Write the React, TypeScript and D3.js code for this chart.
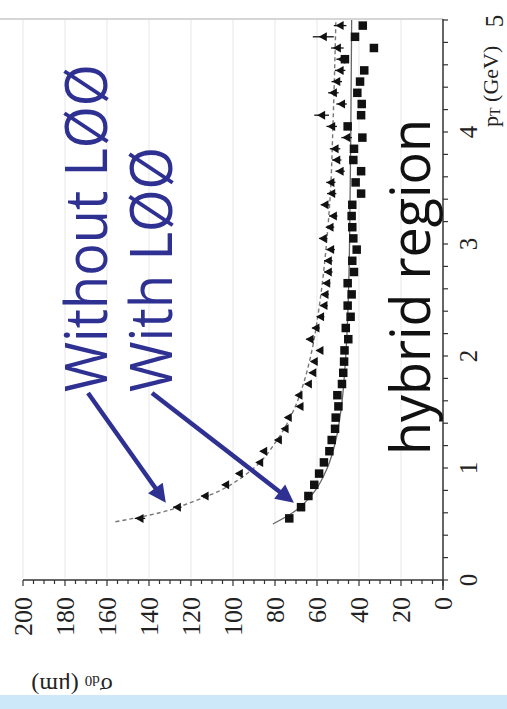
import React from "react";
import * as d3 from "d3";

// pT bin centres (GeV)
const pT = [
  0.55, 0.65, 0.75, 0.85, 0.95, 1.05, 1.15, 1.25, 1.35, 1.45,
  1.55, 1.65, 1.75, 1.85, 1.95, 2.05, 2.15, 2.25, 2.35, 2.45,
  2.55, 2.65, 2.75, 2.85, 2.95, 3.05, 3.15, 3.25, 3.35, 3.45,
  3.55, 3.65, 3.75, 3.85, 3.95, 4.05, 4.15, 4.25, 4.35, 4.45,
  4.55, 4.65, 4.75, 4.85, 4.95,
];

// sigma_d0 (um) with L00 (squares)
const sigmaWith = [
  73.2, 67.6, 64.1, 61.3, 59.0, 56.7, 54.1, 53.0, 51.4, 51.1,
  49.8, 50.3, 48.1, 47.5, 47.1, 46.9, 45.1, 46.3, 44.0, 45.4,
  43.5, 45.4, 42.4, 43.2, 41.1, 42.7, 43.2, 43.5, 43.2, 39.0,
  41.6, 39.0, 42.7, 42.4, 38.4, 45.4, 39.0, 38.7, 40.8, 39.5,
  37.5, 46.7, 32.9, 41.9, 38.2,
];

// sigma_d0 (um) without L00 (triangles)
const sigmaWithout = [
  144.3, 126.5, 113.3, 103.5, 97.0, 87.3, 85.4, 78.4, 75.2, 73.7,
  68.1, 68.6, 64.1, 62.0, 61.3, 58.6, 63.3, 60.5, 58.3, 56.7,
  56.2, 55.4, 54.6, 54.6, 53.5, 57.0, 53.8, 52.2, 56.2, 53.0,
  53.4, 49.0, 50.6, 51.4, 45.9, 53.0, 57.8, 48.3, 52.2, 50.6,
  49.0, 48.3, 50.3, 57.0, 49.0,
];

// error on the triangles (um)
const errWithout = [
  2.5, 2.0, 1.8, 1.6, 1.5, 1.5, 1.5, 1.5, 1.5, 1.5,
  1.5, 1.5, 1.5, 1.5, 1.5, 1.5, 1.8, 1.8, 1.8, 1.8,
  1.8, 1.8, 2.0, 2.0, 2.0, 2.0, 2.0, 2.0, 2.0, 2.2,
  2.2, 2.2, 2.2, 2.5, 2.5, 2.5, 3.5, 2.5, 2.5, 2.5,
  2.5, 2.5, 3.0, 5.0, 3.0,
];

// fitted curves
const fitWithPT = [0.5, 0.6, 0.7, 0.8, 1.0, 1.25, 1.5, 2.0, 2.5, 3.0, 4.0, 5.0];
const fitWithSigma = [81, 71.6, 65.3, 60.8, 55.1, 51.0, 48.7, 46.3, 45.1, 44.5, 43.9, 43.5];
const fitWithoutPT = [0.52, 0.6, 0.7, 0.8, 0.9, 1.0, 1.25, 1.5, 1.75, 2.0, 2.5, 3.0, 3.5, 4.0, 5.0];
const fitWithoutSigma = [156, 135, 119, 106, 97, 90, 79, 71.5, 66.5, 63, 58.5, 55.5, 53.5, 52.5, 51];

const pTTicks = [0, 1, 2, 3, 4, 5];
const sigmaTicks = [0, 20, 40, 60, 80, 100, 120, 140, 160, 180, 200];

const BLUE = "#2e3192";
const SERIF = "'Liberation Serif', 'Times New Roman', serif";
const HAND = "'Open Sans', 'DejaVu Sans', sans-serif";

function arrowHead(x1: number, y1: number, x2: number, y2: number, len: number, half: number) {
  const dx = x2 - x1, dy = y2 - y1;
  const L = Math.hypot(dx, dy);
  const ux = dx / L, uy = dy / L;
  const bx = x2 - ux * len, by = y2 - uy * len;
  const px = -uy, py = ux;
  return `M${x2},${y2}L${bx + px * half},${by + py * half}L${bx - px * half},${by - py * half}Z`;
}

export default function App() {
  const W = 507, H = 709;
  const x = d3.scaleLinear().domain([0, 200]).range([443, 23]);
  const y = d3.scaleLinear().domain([0, 5]).range([580, 20]);

  const line = d3
    .line<[number, number]>()
    .x((d) => x(d[1]))
    .y((d) => y(d[0]))
    .curve(d3.curveMonotoneY);

  const fitWith = line(fitWithPT.map((p, i) => [p, fitWithSigma[i]] as [number, number])) || "";
  const fitWithout = line(fitWithoutPT.map((p, i) => [p, fitWithoutSigma[i]] as [number, number])) || "";

  const minorPT = d3.range(0, 5.001, 0.2);
  const minorSigma = d3.range(0, 200.001, 5);

  const sq = 8.5;
  const tri = (cx: number, cy: number) =>
    `M${cx - 4.5},${cy}L${cx + 3.5},${cy - 4.5}L${cx + 3.5},${cy + 4.5}Z`;

  // arrows
  const a1 = { x1: 88, y1: 393, x2: x(132), y2: y(0.69) };
  const a2 = { x1: 152, y1: 393, x2: x(71), y2: y(0.69) };

  return (
    <svg
      width={W}
      height={H}
      style={{ position: "absolute", left: 0, top: 0, background: "#fff" }}
    >
      <rect x={0} y={0} width={W} height={H} fill="#fff" />
      {/* faint grid */}
      {sigmaTicks.slice(1).map((t) => (
        <line key={"g" + t} x1={x(t)} x2={x(t)} y1={20} y2={578} stroke="#efefef" strokeWidth={1.5} />
      ))}
      {/* top frame */}
      <line x1={0} x2={443} y1={19} y2={19} stroke="#d6d6d6" strokeWidth={2} />

      {/* axes */}
      <line x1={443} x2={443} y1={19} y2={590} stroke="#333" strokeWidth={1.5} />
      <line x1={23} x2={443} y1={580} y2={580} stroke="#333" strokeWidth={1.5} />
      {minorPT.map((t, i) => (
        <line key={"mp" + i} x1={443} x2={448} y1={y(t)} y2={y(t)} stroke="#333" strokeWidth={1.2} />
      ))}
      {minorSigma.map((t, i) => (
        <line
          key={"ms" + i}
          x1={x(t)}
          x2={x(t)}
          y1={580}
          y2={t % 20 === 0 ? 586 : 584}
          stroke="#333"
          strokeWidth={1.2}
        />
      ))}
      {sigmaTicks.map((t) => (
        <text
          key={"sl" + t}
          transform={`translate(${x(t)},597) rotate(-90)`}
          textAnchor="end"
          dominantBaseline="central"
          fontFamily={SERIF}
          fontSize={26}
          fill="#222"
        >
          {t}
        </text>
      ))}
      {pTTicks.map((t) => (
        <text
          key={"pl" + t}
          transform={`translate(${t === 5 ? 494 : 468},${t === 5 ? 21 : y(t)}) rotate(-90)`}
          textAnchor="middle"
          dominantBaseline="central"
          fontFamily={SERIF}
          fontSize={25}
          fill="#222"
        >
          {t}
        </text>
      ))}
      {/* axis titles */}
      <text
        transform="translate(490,127) rotate(-90)"
        fontFamily={SERIF}
        fontSize={22}
        fill="#222"
        dominantBaseline="central"
      >
        p<tspan fontSize={14} dy={5}>T</tspan>
        <tspan dy={-5}> (GeV)</tspan>
      </text>
      <text
        transform="translate(72,686) rotate(180)"
        fontFamily={SERIF}
        fontSize={24}
        fill="#222"
        textAnchor="middle"
        dominantBaseline="central"
      >
        σ<tspan fontSize={15} dy={5}>d0</tspan>
        <tspan dy={-5}> (μm)</tspan>
      </text>

      {/* fit curves */}
      <path d={fitWith} fill="none" stroke="#666" strokeWidth={1.3} />
      <path d={fitWithout} fill="none" stroke="#777" strokeWidth={1.4} strokeDasharray="4,3" />

      {/* triangles with error bars */}
      {pT.map((p, i) => (
        <g key={"t" + i}>
          <line
            x1={x(sigmaWithout[i] - errWithout[i])}
            x2={x(sigmaWithout[i] + errWithout[i])}
            y1={y(p)}
            y2={y(p)}
            stroke="#111"
            strokeWidth={1.3}
          />
          <path d={tri(x(sigmaWithout[i]), y(p))} fill="#111" />
        </g>
      ))}
      {/* squares */}
      {pT.map((p, i) => (
        <rect
          key={"s" + i}
          x={x(sigmaWith[i]) - sq / 2}
          y={y(p) - sq / 2}
          width={sq}
          height={sq}
          fill="#111"
        />
      ))}

      {/* annotations */}
      <text
        transform="translate(107,392) rotate(-90)"
        fontFamily={HAND}
        fontSize={58}
        fill={BLUE}
        textLength={328}
        lengthAdjust="spacingAndGlyphs"
      >
        Without LØØ
      </text>
      <text
        transform="translate(172,392) rotate(-90)"
        fontFamily={HAND}
        fontSize={58}
        fill={BLUE}
        textLength={245}
        lengthAdjust="spacingAndGlyphs"
      >
        With LØØ
      </text>
      <text
        transform="translate(430,455) rotate(-90)"
        fontFamily={HAND}
        fontSize={54}
        fill="#111"
        textLength={336}
        lengthAdjust="spacingAndGlyphs"
      >
        hybrid region
      </text>
      {[a1, a2].map((a, i) => {
        const L = Math.hypot(a.x2 - a.x1, a.y2 - a.y1);
        const ex = a.x2 - ((a.x2 - a.x1) / L) * 14;
        const ey = a.y2 - ((a.y2 - a.y1) / L) * 14;
        return (
          <g key={"a" + i}>
            <line x1={a.x1} y1={a.y1} x2={ex} y2={ey} stroke={BLUE} strokeWidth={4.5} />
            <path d={arrowHead(a.x1, a.y1, a.x2, a.y2, 18, 9)} fill={BLUE} />
          </g>
        );
      })}

      {/* bottom band */}
      <rect x={0} y={695} width={W} height={14} fill="#cce8f9" />
    </svg>
  );
}
